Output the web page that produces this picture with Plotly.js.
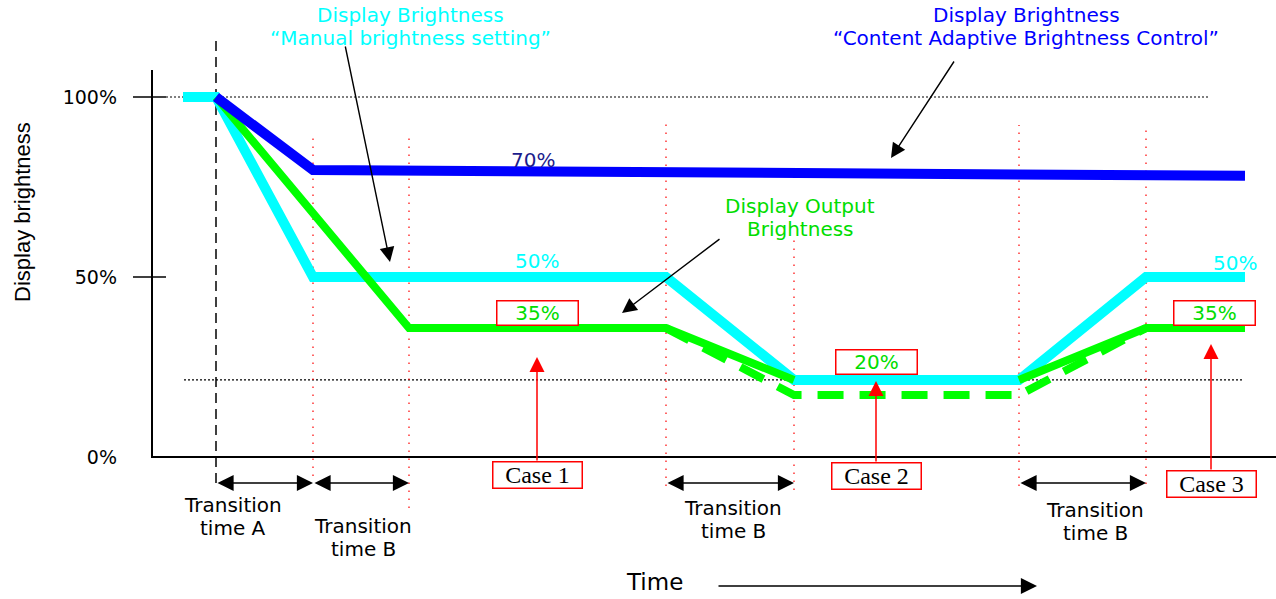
<!DOCTYPE html>
<html>
<head>
<meta charset="utf-8">
<script src="https://cdn.plot.ly/plotly-3.0.1.min.js"></script>
<style>html,body{margin:0;padding:0;background:#fff;}#chart{width:1276px;height:599px;}</style>
</head>
<body>
<div id="chart"></div>
<script>
// ---- data (time in arbitrary units, brightness in %) ----
const cyanTime   = [31, 64, 161, 514, 642, 867, 994, 1093];
const cyanLevel  = [100, 100, 50, 50, 21.4, 21.4, 50, 50];
const blueTime   = [64, 161, 1093];
const blueLevel  = [100, 79.7, 78.1];
const greenTime  = [64, 257, 514, 642, 700, 867, 994, 1093];
const greenLevel = [100, 35.8, 35.8, 21.4, null, 21.4, 35.8, 35.8];
const greenDashTime  = [514, 642, 867, 994];
const greenDashLevel = [35.8, 17.2, 17.2, 35.8];
const eventTimes = [161, 257, 514, 642, 867, 994];       // red dotted markers
const startTime = 64;                                     // black dashed marker
const refLevels = [100, 21.4];
const tickVals = [0, 50, 100];
const tickText = ['0%', '50%', '100%'];
const tickMarks = [50, 100];
const transitions = [[64,161,'Transition','time A'],[161,257,'Transition','time B'],[514,642,'Transition','time B'],[867,994,'Transition','time B']];

// ---- pixel helpers for positioning annotations ----
const X0 = 152, Y0 = 457, PPY = 3.6, W = 1276, H = 599;
const tx = px => px - X0;
const vy = py => (Y0 - py) / PPY;

const SANS = 'DejaVu Sans, Verdana, sans-serif';
const ARIAL = 'Liberation Sans, Arial, sans-serif';
const SERIF = 'Liberation Serif, Times New Roman, serif';
const CYAN = '#00ffff', BLUE = '#0000ff', GREEN = '#00ff00', GREENTXT = '#00dd00', NAVY = '#1c1c8c';

const traces = [
  {x: cyanTime, y: cyanLevel, mode: 'lines', line: {color: CYAN, width: 10}, hoverinfo: 'skip'},
  {x: greenDashTime, y: greenDashLevel, mode: 'lines', line: {color: GREEN, width: 8, dash: '26px,16px'}, hoverinfo: 'skip'},
  {x: greenTime, y: greenLevel, mode: 'lines', line: {color: GREEN, width: 8}, connectgaps: false, hoverinfo: 'skip'},
  {x: blueTime, y: blueLevel, mode: 'lines', line: {color: BLUE, width: 10}, hoverinfo: 'skip'}
];

const shapes = [];
// axes lines
shapes.push({type: 'line', x0: 0, x1: 0, y0: vy(458), y1: vy(70), line: {color: '#000', width: 2}});
shapes.push({type: 'line', x0: 0, x1: tx(1276), y0: 0, y1: 0, line: {color: '#000', width: 2}});
tickMarks.forEach(v => shapes.push({type: 'line', x0: tx(133), x1: tx(166), y0: v, y1: v, line: {color: '#000', width: 1.5}}));
// reference dotted horizontals
shapes.push({type: 'line', x0: tx(166), x1: tx(1210), y0: refLevels[0], y1: refLevels[0], line: {color: '#000', width: 1.2, dash: '2px,2px'}, layer: 'below'});
shapes.push({type: 'line', x0: tx(184), x1: tx(1243), y0: refLevels[1], y1: refLevels[1], line: {color: '#000', width: 1.2, dash: '2px,2px'}, layer: 'below'});
// red dotted event lines
const evTop = [132, 132, 123, 237, 125, 125];
const evBot = [476, 508, 486, 490, 486, 484];
eventTimes.forEach((t, i) => shapes.push({type: 'line', x0: t, x1: t, y0: vy(evBot[i]), y1: vy(evTop[i]), line: {color: '#ff0000', width: 1.2, dash: '1.5px,6.5px'}, layer: 'below'}));
// black dashed start line
shapes.push({type: 'line', x0: startTime, x1: startTime, y0: vy(483), y1: vy(40), line: {color: '#000', width: 1.5, dash: '10px,6px'}, layer: 'below'});

const ann = [];
const txt = (px, py, s, color, size, fam) => ann.push({x: tx(px), y: vy(py), text: s, showarrow: false, borderpad: 0, font: {family: fam || SANS, size: size || 20, color: color}});
const arrow = (hx, hy, tlx, tly, color, size, width, side) => ann.push({x: tx(hx), y: vy(hy), ax: tx(tlx), ay: vy(tly), axref: 'x', ayref: 'y', text: '', showarrow: true, arrowhead: 2, arrowsize: size, arrowwidth: width, arrowcolor: color, arrowside: side || 'end'});

// y axis title
ann.push({x: tx(22), y: vy(212), text: 'Display brightness', textangle: -90, showarrow: false, font: {family: ARIAL, size: 22, color: '#000'}});
// callouts
txt(410, 15, 'Display Brightness', CYAN);
txt(410, 38, '“Manual brightness setting”', CYAN);
arrow(390, 262, 345, 45, '#000', 2.1, 1.4);
txt(1026, 15, 'Display Brightness', BLUE);
txt(1026, 38, '“Content Adaptive Brightness Control”', BLUE);
arrow(891, 158, 955, 60, '#000', 2.1, 1.4);
txt(800, 206, 'Display Output', GREENTXT);
txt(800, 229, 'Brightness', GREENTXT);
arrow(622, 313, 721, 238, '#000', 2.1, 1.4);
// value labels
txt(533, 160, '70%', NAVY);
txt(537, 261, '50%', CYAN);
txt(1235, 263, '50%', CYAN);
const boxVals = [[537, 313, '35%'], [876, 362, '20%'], [1214, 313, '35%']];
boxVals.forEach(b => ann.push({x: tx(b[0]), y: vy(b[1]), text: b[2], showarrow: false, width: 78, height: 21, bgcolor: '#fff', bordercolor: '#ff0000', borderwidth: 1.5, borderpad: 1, font: {family: SANS, size: 20, color: GREENTXT}}));
// case boxes + red arrows
const cases = [[537, 475, 357, 'Case 1'], [876, 476, 381, 'Case 2'], [1211, 484, 344, 'Case 3']];
cases.forEach(c => {
  arrow(c[0], c[2], c[0], c[1] - 13, '#ff0000', 2, 1.5);
  ann.push({x: tx(c[0]), y: vy(c[1]), text: c[3], showarrow: false, width: 86, height: 23, bgcolor: '#fff', bordercolor: '#ff0000', borderwidth: 1.5, borderpad: 1, font: {family: SERIF, size: 24, color: '#000'}});
});
// transition arrows + labels
const labelY = [505, 526, 508, 510];
const labelX = [233, 363, 733, 1095];
transitions.forEach((tr, i) => {
  ann.push({x: tr[1], y: vy(483), ax: tr[0], ay: vy(483), axref: 'x', ayref: 'y', text: '', showarrow: true, arrowside: 'end+start', arrowhead: 2, arrowsize: 2.3, arrowwidth: 1.4, arrowcolor: '#000'});
  txt(labelX[i], labelY[i], tr[2], '#000');
  txt(labelX[i], labelY[i] + 23, tr[3], '#000');
});
// time axis label
txt(654, 582, 'Time', '#000', 23);
arrow(1037, 586, 717, 586, '#000', 2.3, 1.4);

const layout = {
  width: W, height: H,
  margin: {l: 0, r: 0, t: 0, b: 0},
  paper_bgcolor: '#fff', plot_bgcolor: '#fff',
  showlegend: false,
  xaxis: {range: [tx(0), tx(W)], domain: [0, 1], visible: false, fixedrange: true},
  yaxis: {range: [vy(H), vy(0)], domain: [0, 1], anchor: 'free', position: X0 / W,
          tickvals: tickVals, ticktext: tickText, ticks: '', showline: false, showgrid: false, zeroline: false,
          ticklabelstandoff: 35, tickfont: {family: SANS, size: 19, color: '#000'}, fixedrange: true},
  shapes: shapes,
  annotations: ann
};

Plotly.newPlot('chart', traces, layout, {displayModeBar: false, staticPlot: true});
</script>
</body>
</html>
